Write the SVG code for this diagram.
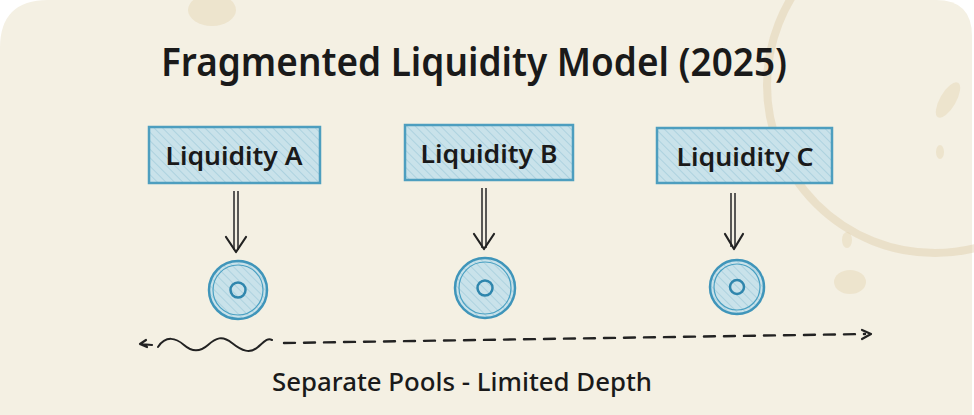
<svg xmlns="http://www.w3.org/2000/svg" width="974" height="415" viewBox="0 0 974 415">
<defs>
<pattern id="hatch" patternUnits="userSpaceOnUse" width="6" height="6" patternTransform="rotate(-45)">
<rect width="6" height="6" fill="#c9e2ea"/>
<line x1="0" y1="0" x2="0" y2="6" stroke="#add2df" stroke-width="2"/>
</pattern>
<style>
.box{fill:url(#hatch);stroke:#4d9ebf;stroke-width:2.5}
.lbl{font-family:"Noto Sans","DejaVu Sans",sans-serif;font-size:25px;font-weight:600;fill:#1a1a1a;text-anchor:middle}
.pool{fill:url(#hatch);stroke:#3f95ba;stroke-width:2.5}
.ring{fill:none;stroke:#4aa0c2;stroke-width:1.2}
.inner{fill:none;stroke:#2f86ad;stroke-width:2.5}
.shaft{stroke:#333;stroke-width:1.6;fill:none}
.head{fill:none;stroke:#222;stroke-width:2.2;stroke-linecap:round;stroke-linejoin:round}
.stain{fill:none;stroke:#dcc8a2;opacity:0.4}
.spot{fill:#e3d1ad;opacity:0.4}
</style>
</defs>
<rect width="974" height="415" fill="#ffffff"/>
<path d="M0,415 L0,48 Q0,0 48,0 L936,0 Q972,0 972,36 L972,415 Z" fill="#f4f0e3"/>
<g id="stains">
<circle cx="935" cy="85" r="168" class="stain" stroke-width="8"/>
<ellipse cx="212" cy="10" rx="24" ry="16" class="spot" opacity="0.35"/>
<ellipse cx="948" cy="100" rx="8" ry="20" class="spot" transform="rotate(30 948 100)"/>
<ellipse cx="940" cy="152" rx="4" ry="7" class="spot"/>
<ellipse cx="850" cy="282" rx="16" ry="12" class="spot" opacity="0.3"/>
<ellipse cx="847" cy="240" rx="5" ry="8" class="spot"/>
</g>
<text id="title" x="474" y="76" font-family="'Noto Sans','DejaVu Sans',sans-serif" font-size="40" font-weight="600" fill="#1a1a1a" text-anchor="middle" textLength="626" lengthAdjust="spacingAndGlyphs">Fragmented Liquidity Model (2025)</text>
<g id="nodeA">
<rect class="box" x="149" y="127" width="171" height="56"/>
<text class="lbl" x="234" y="165" textLength="137" lengthAdjust="spacingAndGlyphs">Liquidity A</text>
</g>
<g id="nodeB">
<rect class="box" x="405" y="125" width="168" height="55"/>
<text class="lbl" x="489" y="163" textLength="137" lengthAdjust="spacingAndGlyphs">Liquidity B</text>
</g>
<g id="nodeC">
<rect class="box" x="657" y="128" width="175" height="55"/>
<text class="lbl" x="745" y="166" textLength="137" lengthAdjust="spacingAndGlyphs">Liquidity C</text>
</g>
<g id="poolA">
<circle class="pool" cx="238" cy="290" r="29"/>
<circle class="ring" cx="238" cy="290" r="25"/>
<circle class="inner" cx="238" cy="290" r="7.5"/>
</g>
<g id="poolB">
<circle class="pool" cx="485" cy="288" r="30"/>
<circle class="ring" cx="485" cy="288" r="26"/>
<circle class="inner" cx="485" cy="288" r="7.5"/>
</g>
<g id="poolC">
<circle class="pool" cx="737" cy="287" r="27"/>
<circle class="ring" cx="737" cy="287" r="23"/>
<circle class="inner" cx="737" cy="287" r="7"/>
</g>
<g id="connectors">
<path class="shaft" d="M234,191 V250 M238,191 V250"/>
<path class="head" d="M226,237 L236,252 L246,237"/>
<path class="shaft" d="M482,188 V248 M486,188 V248"/>
<path class="head" d="M474,234 L484,249 L494,234"/>
<path class="shaft" d="M731,193 V247 M735,193 V247"/>
<path class="head" d="M725,234 L734,249 L743,234"/>
<path d="M152,345 L140,344 M140,344 L146,340 M140,344 L147,347" fill="none" stroke="#222" stroke-width="2.2" stroke-linecap="round"/>
<path d="M158,347 C166,335 176,338 184,345 S200,352 208,345 S222,335 232,343 S250,354 258,347 S268,338 272,340" fill="none" stroke="#222" stroke-width="2" stroke-linecap="round"/>
<path d="M284,343 L865,334" fill="none" stroke="#222" stroke-width="2.4" stroke-dasharray="11,9" stroke-linecap="round"/>
<path class="head" d="M862,330 L871,334 L862,339"/>
</g>
<text id="caption" x="462" y="391" font-family="'Noto Sans','DejaVu Sans',sans-serif" font-size="25" font-weight="500" fill="#1a1a1a" text-anchor="middle" textLength="380" lengthAdjust="spacingAndGlyphs">Separate Pools - Limited Depth</text>
</svg>
